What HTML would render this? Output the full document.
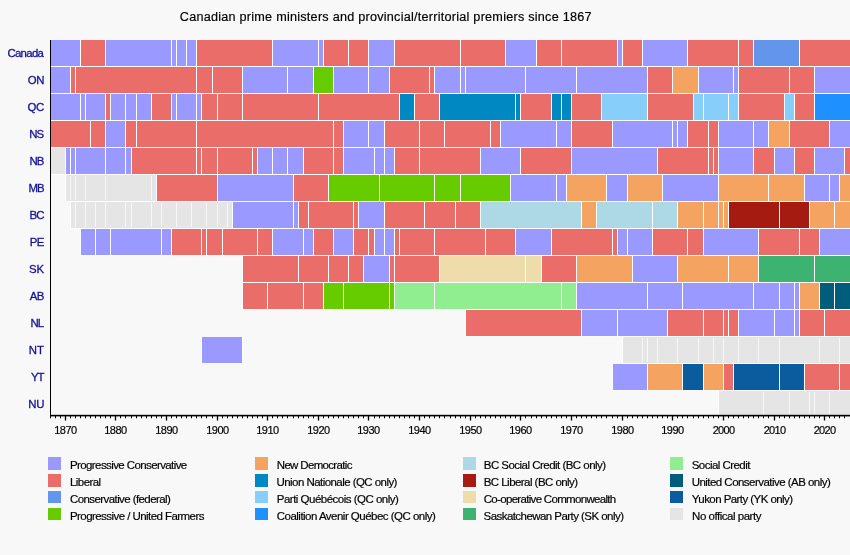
<!DOCTYPE html>
<html><head><meta charset="utf-8"><title>Canadian prime ministers and provincial/territorial premiers since 1867</title>
<style>
html,body{margin:0;padding:0}
body{width:850px;height:555px;position:relative;overflow:hidden;background:#F8F8F8;font-family:"Liberation Sans",sans-serif;color:#000;-webkit-text-stroke:0.18px #000}
.t{position:absolute;white-space:nowrap;line-height:1}
.title{font-size:12.65px}
.lab{font-size:11.4px;color:#14109A;-webkit-text-stroke:0.3px #14109A}
.yr{font-size:11px}
.lg{font-size:11.5px}
.sw{position:absolute;width:13px;height:12.4px}
</style></head><body>
<svg width="850" height="555" viewBox="0 0 850 555" style="position:absolute;left:0;top:0" shape-rendering="crispEdges">
<rect x="50" y="40" width="30" height="26" fill="#9999FF"/>
<rect x="80" y="40" width="25" height="26" fill="#EA6D6A"/>
<rect x="105" y="40" width="91" height="26" fill="#9999FF"/>
<rect x="196" y="40" width="76" height="26" fill="#EA6D6A"/>
<rect x="272" y="40" width="51" height="26" fill="#9999FF"/>
<rect x="323" y="40" width="45" height="26" fill="#EA6D6A"/>
<rect x="368" y="40" width="26" height="26" fill="#9999FF"/>
<rect x="394" y="40" width="111" height="26" fill="#EA6D6A"/>
<rect x="505" y="40" width="31" height="26" fill="#9999FF"/>
<rect x="536" y="40" width="81" height="26" fill="#EA6D6A"/>
<rect x="617" y="40" width="5" height="26" fill="#9999FF"/>
<rect x="622" y="40" width="20" height="26" fill="#EA6D6A"/>
<rect x="642" y="40" width="45" height="26" fill="#9999FF"/>
<rect x="687" y="40" width="66" height="26" fill="#EA6D6A"/>
<rect x="753" y="40" width="46" height="26" fill="#6495ED"/>
<rect x="799" y="40" width="51" height="26" fill="#EA6D6A"/>
<rect x="50" y="66" width="800" height="1" fill="#fff" fill-opacity="0.7"/>
<path d="M80.5 40v26M105.5 40v26M171.5 40v26M176.5 40v26M186.5 40v26M196.5 40v26M272.5 40v26M318.5 40v26M323.5 40v26M348.5 40v26M368.5 40v26M394.5 40v26M460.5 40v26M505.5 40v26M536.5 40v26M561.5 40v26M617.5 40v26M622.5 40v26M642.5 40v26M687.5 40v26M738.5 40v26M753.5 40v26M799.5 40v26" stroke="#fff" stroke-width="1" fill="none"/>
<rect x="50" y="67" width="20" height="26" fill="#9999FF"/>
<rect x="70" y="67" width="172" height="26" fill="#EA6D6A"/>
<rect x="242" y="67" width="71" height="26" fill="#9999FF"/>
<rect x="313" y="67" width="20" height="26" fill="#66CC00"/>
<rect x="333" y="67" width="56" height="26" fill="#9999FF"/>
<rect x="389" y="67" width="45" height="26" fill="#EA6D6A"/>
<rect x="434" y="67" width="213" height="26" fill="#9999FF"/>
<rect x="647" y="67" width="25" height="26" fill="#EA6D6A"/>
<rect x="672" y="67" width="26" height="26" fill="#F4A460"/>
<rect x="698" y="67" width="40" height="26" fill="#9999FF"/>
<rect x="738" y="67" width="76" height="26" fill="#EA6D6A"/>
<rect x="814" y="67" width="36" height="26" fill="#9999FF"/>
<rect x="50" y="93" width="800" height="1" fill="#fff" fill-opacity="0.7"/>
<path d="M70.5 67v26M75.5 67v26M196.5 67v26M212.5 67v26M242.5 67v26M287.5 67v26M313.5 67v26M333.5 67v26M368.5 67v26M389.5 67v26M429.5 67v26M434.5 67v26M460.5 67v26M465.5 67v26M525.5 67v26M576.5 67v26M647.5 67v26M672.5 67v26M698.5 67v26M733.5 67v26M738.5 67v26M789.5 67v26M814.5 67v26" stroke="#fff" stroke-width="1" fill="none"/>
<rect x="50" y="94" width="55" height="26" fill="#9999FF"/>
<rect x="105" y="94" width="5" height="26" fill="#EA6D6A"/>
<rect x="110" y="94" width="41" height="26" fill="#9999FF"/>
<rect x="151" y="94" width="20" height="26" fill="#EA6D6A"/>
<rect x="171" y="94" width="30" height="26" fill="#9999FF"/>
<rect x="201" y="94" width="198" height="26" fill="#EA6D6A"/>
<rect x="399" y="94" width="15" height="26" fill="#0088C2"/>
<rect x="414" y="94" width="25" height="26" fill="#EA6D6A"/>
<rect x="439" y="94" width="81" height="26" fill="#0088C2"/>
<rect x="520" y="94" width="31" height="26" fill="#EA6D6A"/>
<rect x="551" y="94" width="20" height="26" fill="#0088C2"/>
<rect x="571" y="94" width="30" height="26" fill="#EA6D6A"/>
<rect x="601" y="94" width="46" height="26" fill="#87CEFA"/>
<rect x="647" y="94" width="46" height="26" fill="#EA6D6A"/>
<rect x="693" y="94" width="45" height="26" fill="#87CEFA"/>
<rect x="738" y="94" width="46" height="26" fill="#EA6D6A"/>
<rect x="784" y="94" width="10" height="26" fill="#87CEFA"/>
<rect x="794" y="94" width="20" height="26" fill="#EA6D6A"/>
<rect x="814" y="94" width="36" height="26" fill="#1E90FF"/>
<rect x="50" y="120" width="800" height="1" fill="#fff" fill-opacity="0.7"/>
<path d="M80.5 94v26M85.5 94v26M105.5 94v26M110.5 94v26M125.5 94v26M136.5 94v26M151.5 94v26M171.5 94v26M176.5 94v26M196.5 94v26M201.5 94v26M217.5 94v26M242.5 94v26M318.5 94v26M399.5 94v26M414.5 94v26M439.5 94v26M515.5 94v26M520.5 94v26M551.5 94v26M561.5 94v26M571.5 94v26M601.5 94v26M647.5 94v26M693.5 94v26M703.5 94v26M728.5 94v26M738.5 94v26M784.5 94v26M794.5 94v26M814.5 94v26" stroke="#fff" stroke-width="1" fill="none"/>
<rect x="50" y="121" width="55" height="26" fill="#EA6D6A"/>
<rect x="105" y="121" width="20" height="26" fill="#9999FF"/>
<rect x="125" y="121" width="218" height="26" fill="#EA6D6A"/>
<rect x="343" y="121" width="41" height="26" fill="#9999FF"/>
<rect x="384" y="121" width="116" height="26" fill="#EA6D6A"/>
<rect x="500" y="121" width="71" height="26" fill="#9999FF"/>
<rect x="571" y="121" width="41" height="26" fill="#EA6D6A"/>
<rect x="612" y="121" width="75" height="26" fill="#9999FF"/>
<rect x="687" y="121" width="31" height="26" fill="#EA6D6A"/>
<rect x="718" y="121" width="50" height="26" fill="#9999FF"/>
<rect x="768" y="121" width="21" height="26" fill="#F4A460"/>
<rect x="789" y="121" width="40" height="26" fill="#EA6D6A"/>
<rect x="829" y="121" width="21" height="26" fill="#9999FF"/>
<rect x="50" y="147" width="800" height="1" fill="#fff" fill-opacity="0.7"/>
<path d="M90.5 121v26M105.5 121v26M125.5 121v26M136.5 121v26M196.5 121v26M333.5 121v26M343.5 121v26M368.5 121v26M384.5 121v26M419.5 121v26M444.5 121v26M490.5 121v26M500.5 121v26M556.5 121v26M571.5 121v26M612.5 121v26M672.5 121v26M677.5 121v26M687.5 121v26M708.5 121v26M718.5 121v26M753.5 121v26M768.5 121v26M789.5 121v26M829.5 121v26" stroke="#fff" stroke-width="1" fill="none"/>
<rect x="50" y="148" width="15" height="26" fill="#E5E5E5"/>
<rect x="65" y="148" width="66" height="26" fill="#9999FF"/>
<rect x="131" y="148" width="126" height="26" fill="#EA6D6A"/>
<rect x="257" y="148" width="46" height="26" fill="#9999FF"/>
<rect x="303" y="148" width="40" height="26" fill="#EA6D6A"/>
<rect x="343" y="148" width="51" height="26" fill="#9999FF"/>
<rect x="394" y="148" width="86" height="26" fill="#EA6D6A"/>
<rect x="480" y="148" width="40" height="26" fill="#9999FF"/>
<rect x="520" y="148" width="51" height="26" fill="#EA6D6A"/>
<rect x="571" y="148" width="86" height="26" fill="#9999FF"/>
<rect x="657" y="148" width="61" height="26" fill="#EA6D6A"/>
<rect x="718" y="148" width="35" height="26" fill="#9999FF"/>
<rect x="753" y="148" width="21" height="26" fill="#EA6D6A"/>
<rect x="774" y="148" width="20" height="26" fill="#9999FF"/>
<rect x="794" y="148" width="20" height="26" fill="#EA6D6A"/>
<rect x="814" y="148" width="30" height="26" fill="#9999FF"/>
<rect x="844" y="148" width="6" height="26" fill="#EA6D6A"/>
<rect x="50" y="174" width="800" height="1" fill="#fff" fill-opacity="0.7"/>
<path d="M65.5 148v26M70.5 148v26M75.5 148v26M105.5 148v26M125.5 148v26M131.5 148v26M196.5 148v26M201.5 148v26M217.5 148v26M252.5 148v26M257.5 148v26M272.5 148v26M287.5 148v26M303.5 148v26M333.5 148v26M343.5 148v26M374.5 148v26M384.5 148v26M394.5 148v26M419.5 148v26M480.5 148v26M520.5 148v26M571.5 148v26M657.5 148v26M708.5 148v26M713.5 148v26M718.5 148v26M753.5 148v26M774.5 148v26M794.5 148v26M814.5 148v26M844.5 148v26" stroke="#fff" stroke-width="1" fill="none"/>
<rect x="65" y="175" width="91" height="26" fill="#E5E5E5"/>
<rect x="156" y="175" width="61" height="26" fill="#EA6D6A"/>
<rect x="217" y="175" width="76" height="26" fill="#9999FF"/>
<rect x="293" y="175" width="35" height="26" fill="#EA6D6A"/>
<rect x="328" y="175" width="182" height="26" fill="#66CC00"/>
<rect x="510" y="175" width="56" height="26" fill="#9999FF"/>
<rect x="566" y="175" width="40" height="26" fill="#F4A460"/>
<rect x="606" y="175" width="21" height="26" fill="#9999FF"/>
<rect x="627" y="175" width="35" height="26" fill="#F4A460"/>
<rect x="662" y="175" width="56" height="26" fill="#9999FF"/>
<rect x="718" y="175" width="86" height="26" fill="#F4A460"/>
<rect x="804" y="175" width="35" height="26" fill="#9999FF"/>
<rect x="839" y="175" width="11" height="26" fill="#F4A460"/>
<rect x="65" y="201" width="785" height="1" fill="#fff" fill-opacity="0.7"/>
<path d="M65.5 175v26M156.5 175v26M217.5 175v26M293.5 175v26M328.5 175v26M379.5 175v26M434.5 175v26M460.5 175v26M510.5 175v26M556.5 175v26M566.5 175v26M606.5 175v26M627.5 175v26M662.5 175v26M718.5 175v26M768.5 175v26M804.5 175v26M829.5 175v26M839.5 175v26" stroke="#fff" stroke-width="1" fill="none"/>
<path d="M70.5 176v24M75.5 176v24M85.5 176v24M105.5 176v24M151.5 176v24" stroke="#fff" stroke-opacity="0.72" stroke-width="1" fill="none"/>
<rect x="70" y="202" width="162" height="26" fill="#E5E5E5"/>
<rect x="232" y="202" width="66" height="26" fill="#9999FF"/>
<rect x="298" y="202" width="60" height="26" fill="#EA6D6A"/>
<rect x="358" y="202" width="26" height="26" fill="#9999FF"/>
<rect x="384" y="202" width="96" height="26" fill="#EA6D6A"/>
<rect x="480" y="202" width="101" height="26" fill="#ADD8E6"/>
<rect x="581" y="202" width="15" height="26" fill="#F4A460"/>
<rect x="596" y="202" width="81" height="26" fill="#ADD8E6"/>
<rect x="677" y="202" width="51" height="26" fill="#F4A460"/>
<rect x="728" y="202" width="81" height="26" fill="#A51B12"/>
<rect x="809" y="202" width="41" height="26" fill="#F4A460"/>
<rect x="70" y="228" width="780" height="1" fill="#fff" fill-opacity="0.7"/>
<path d="M70.5 202v26M232.5 202v26M293.5 202v26M298.5 202v26M308.5 202v26M353.5 202v26M358.5 202v26M384.5 202v26M424.5 202v26M455.5 202v26M480.5 202v26M581.5 202v26M596.5 202v26M652.5 202v26M677.5 202v26M703.5 202v26M718.5 202v26M723.5 202v26M728.5 202v26M779.5 202v26M809.5 202v26M834.5 202v26" stroke="#fff" stroke-width="1" fill="none"/>
<path d="M75.5 203v24M85.5 203v24M95.5 203v24M105.5 203v24M125.5 203v24M131.5 203v24M151.5 203v24M161.5 203v24M176.5 203v24M191.5 203v24M206.5 203v24M217.5 203v24M227.5 203v24" stroke="#fff" stroke-opacity="0.72" stroke-width="1" fill="none"/>
<rect x="80" y="229" width="91" height="26" fill="#9999FF"/>
<rect x="171" y="229" width="101" height="26" fill="#EA6D6A"/>
<rect x="272" y="229" width="41" height="26" fill="#9999FF"/>
<rect x="313" y="229" width="20" height="26" fill="#EA6D6A"/>
<rect x="333" y="229" width="20" height="26" fill="#9999FF"/>
<rect x="353" y="229" width="21" height="26" fill="#EA6D6A"/>
<rect x="374" y="229" width="20" height="26" fill="#9999FF"/>
<rect x="394" y="229" width="121" height="26" fill="#EA6D6A"/>
<rect x="515" y="229" width="36" height="26" fill="#9999FF"/>
<rect x="551" y="229" width="66" height="26" fill="#EA6D6A"/>
<rect x="617" y="229" width="35" height="26" fill="#9999FF"/>
<rect x="652" y="229" width="51" height="26" fill="#EA6D6A"/>
<rect x="703" y="229" width="55" height="26" fill="#9999FF"/>
<rect x="758" y="229" width="61" height="26" fill="#EA6D6A"/>
<rect x="819" y="229" width="31" height="26" fill="#9999FF"/>
<rect x="80" y="255" width="770" height="1" fill="#fff" fill-opacity="0.7"/>
<path d="M80.5 229v26M95.5 229v26M110.5 229v26M161.5 229v26M171.5 229v26M201.5 229v26M206.5 229v26M222.5 229v26M257.5 229v26M272.5 229v26M303.5 229v26M313.5 229v26M333.5 229v26M353.5 229v26M368.5 229v26M374.5 229v26M384.5 229v26M394.5 229v26M399.5 229v26M434.5 229v26M485.5 229v26M515.5 229v26M551.5 229v26M612.5 229v26M617.5 229v26M627.5 229v26M652.5 229v26M687.5 229v26M703.5 229v26M758.5 229v26M799.5 229v26M819.5 229v26" stroke="#fff" stroke-width="1" fill="none"/>
<rect x="242" y="256" width="121" height="26" fill="#EA6D6A"/>
<rect x="363" y="256" width="26" height="26" fill="#9999FF"/>
<rect x="389" y="256" width="50" height="26" fill="#EA6D6A"/>
<rect x="439" y="256" width="102" height="26" fill="#EEDDAA"/>
<rect x="541" y="256" width="35" height="26" fill="#EA6D6A"/>
<rect x="576" y="256" width="56" height="26" fill="#F4A460"/>
<rect x="632" y="256" width="45" height="26" fill="#9999FF"/>
<rect x="677" y="256" width="81" height="26" fill="#F4A460"/>
<rect x="758" y="256" width="92" height="26" fill="#3CB371"/>
<rect x="242" y="282" width="608" height="1" fill="#fff" fill-opacity="0.7"/>
<path d="M242.5 256v26M298.5 256v26M328.5 256v26M348.5 256v26M363.5 256v26M389.5 256v26M394.5 256v26M439.5 256v26M525.5 256v26M541.5 256v26M576.5 256v26M632.5 256v26M677.5 256v26M728.5 256v26M758.5 256v26M814.5 256v26" stroke="#fff" stroke-width="1" fill="none"/>
<rect x="242" y="283" width="81" height="26" fill="#EA6D6A"/>
<rect x="323" y="283" width="71" height="26" fill="#66CC00"/>
<rect x="394" y="283" width="182" height="26" fill="#90EE90"/>
<rect x="576" y="283" width="223" height="26" fill="#9999FF"/>
<rect x="799" y="283" width="20" height="26" fill="#F4A460"/>
<rect x="819" y="283" width="31" height="26" fill="#005D7C"/>
<rect x="242" y="309" width="608" height="1" fill="#fff" fill-opacity="0.7"/>
<path d="M242.5 283v26M267.5 283v26M303.5 283v26M323.5 283v26M343.5 283v26M389.5 283v26M394.5 283v26M434.5 283v26M561.5 283v26M576.5 283v26M647.5 283v26M682.5 283v26M753.5 283v26M779.5 283v26M794.5 283v26M799.5 283v26M819.5 283v26M834.5 283v26" stroke="#fff" stroke-width="1" fill="none"/>
<rect x="465" y="310" width="116" height="26" fill="#EA6D6A"/>
<rect x="581" y="310" width="86" height="26" fill="#9999FF"/>
<rect x="667" y="310" width="71" height="26" fill="#EA6D6A"/>
<rect x="738" y="310" width="61" height="26" fill="#9999FF"/>
<rect x="799" y="310" width="51" height="26" fill="#EA6D6A"/>
<rect x="465" y="336" width="385" height="1" fill="#fff" fill-opacity="0.7"/>
<path d="M465.5 310v26M581.5 310v26M617.5 310v26M667.5 310v26M703.5 310v26M723.5 310v26M728.5 310v26M738.5 310v26M774.5 310v26M794.5 310v26M799.5 310v26M824.5 310v26" stroke="#fff" stroke-width="1" fill="none"/>
<rect x="201" y="337" width="41" height="26" fill="#9999FF"/>
<rect x="622" y="337" width="228" height="26" fill="#E5E5E5"/>
<rect x="201" y="363" width="42" height="1" fill="#fff" fill-opacity="0.7"/>
<rect x="622" y="363" width="228" height="1" fill="#fff" fill-opacity="0.7"/>
<path d="M201.5 337v26M242.5 337v26M622.5 337v26" stroke="#fff" stroke-width="1" fill="none"/>
<path d="M642.5 338v24M647.5 338v24M657.5 338v24M677.5 338v24M698.5 338v24M713.5 338v24M723.5 338v24M738.5 338v24M758.5 338v24M779.5 338v24M819.5 338v24M839.5 338v24" stroke="#fff" stroke-opacity="0.72" stroke-width="1" fill="none"/>
<rect x="612" y="364" width="35" height="26" fill="#9999FF"/>
<rect x="647" y="364" width="35" height="26" fill="#F4A460"/>
<rect x="682" y="364" width="21" height="26" fill="#0A5C9E"/>
<rect x="703" y="364" width="20" height="26" fill="#F4A460"/>
<rect x="723" y="364" width="10" height="26" fill="#EA6D6A"/>
<rect x="733" y="364" width="71" height="26" fill="#0A5C9E"/>
<rect x="804" y="364" width="46" height="26" fill="#EA6D6A"/>
<rect x="612" y="390" width="238" height="1" fill="#fff" fill-opacity="0.7"/>
<path d="M612.5 364v26M647.5 364v26M682.5 364v26M703.5 364v26M723.5 364v26M733.5 364v26M779.5 364v26M804.5 364v26M839.5 364v26" stroke="#fff" stroke-width="1" fill="none"/>
<rect x="718" y="391" width="132" height="26" fill="#E5E5E5"/>
<path d="M718.5 391v26" stroke="#fff" stroke-width="1" fill="none"/>
<path d="M763.5 392v24M789.5 392v24M809.5 392v24M814.5 392v24M829.5 392v24" stroke="#fff" stroke-opacity="0.72" stroke-width="1" fill="none"/>
<rect x="50" y="40" width="1" height="376" fill="#000"/>
<rect x="50" y="414.8" width="800" height="1.6" fill="#000" shape-rendering="auto"/>
<path d="M65.5 416v4.6M115.5 416v4.6M166.5 416v4.6M217.5 416v4.6M267.5 416v4.6M318.5 416v4.6M368.5 416v4.6M419.5 416v4.6M470.5 416v4.6M520.5 416v4.6M571.5 416v4.6M622.5 416v4.6M672.5 416v4.6M723.5 416v4.6M774.5 416v4.6M824.5 416v4.6" stroke="#000" stroke-width="1.3" fill="none" shape-rendering="auto"/>
<path d="M50.5 416v2.3M55.5 416v2.3M60.5 416v2.3M70.5 416v2.3M75.5 416v2.3M80.5 416v2.3M85.5 416v2.3M90.5 416v2.3M95.5 416v2.3M100.5 416v2.3M105.5 416v2.3M110.5 416v2.3M120.5 416v2.3M125.5 416v2.3M131.5 416v2.3M136.5 416v2.3M141.5 416v2.3M146.5 416v2.3M151.5 416v2.3M156.5 416v2.3M161.5 416v2.3M171.5 416v2.3M176.5 416v2.3M181.5 416v2.3M186.5 416v2.3M191.5 416v2.3M196.5 416v2.3M201.5 416v2.3M206.5 416v2.3M212.5 416v2.3M222.5 416v2.3M227.5 416v2.3M232.5 416v2.3M237.5 416v2.3M242.5 416v2.3M247.5 416v2.3M252.5 416v2.3M257.5 416v2.3M262.5 416v2.3M272.5 416v2.3M277.5 416v2.3M282.5 416v2.3M287.5 416v2.3M293.5 416v2.3M298.5 416v2.3M303.5 416v2.3M308.5 416v2.3M313.5 416v2.3M323.5 416v2.3M328.5 416v2.3M333.5 416v2.3M338.5 416v2.3M343.5 416v2.3M348.5 416v2.3M353.5 416v2.3M358.5 416v2.3M363.5 416v2.3M374.5 416v2.3M379.5 416v2.3M384.5 416v2.3M389.5 416v2.3M394.5 416v2.3M399.5 416v2.3M404.5 416v2.3M409.5 416v2.3M414.5 416v2.3M424.5 416v2.3M429.5 416v2.3M434.5 416v2.3M439.5 416v2.3M444.5 416v2.3M450.5 416v2.3M455.5 416v2.3M460.5 416v2.3M465.5 416v2.3M475.5 416v2.3M480.5 416v2.3M485.5 416v2.3M490.5 416v2.3M495.5 416v2.3M500.5 416v2.3M505.5 416v2.3M510.5 416v2.3M515.5 416v2.3M525.5 416v2.3M531.5 416v2.3M536.5 416v2.3M541.5 416v2.3M546.5 416v2.3M551.5 416v2.3M556.5 416v2.3M561.5 416v2.3M566.5 416v2.3M576.5 416v2.3M581.5 416v2.3M586.5 416v2.3M591.5 416v2.3M596.5 416v2.3M601.5 416v2.3M606.5 416v2.3M612.5 416v2.3M617.5 416v2.3M627.5 416v2.3M632.5 416v2.3M637.5 416v2.3M642.5 416v2.3M647.5 416v2.3M652.5 416v2.3M657.5 416v2.3M662.5 416v2.3M667.5 416v2.3M677.5 416v2.3M682.5 416v2.3M687.5 416v2.3M693.5 416v2.3M698.5 416v2.3M703.5 416v2.3M708.5 416v2.3M713.5 416v2.3M718.5 416v2.3M728.5 416v2.3M733.5 416v2.3M738.5 416v2.3M743.5 416v2.3M748.5 416v2.3M753.5 416v2.3M758.5 416v2.3M763.5 416v2.3M768.5 416v2.3M779.5 416v2.3M784.5 416v2.3M789.5 416v2.3M794.5 416v2.3M799.5 416v2.3M804.5 416v2.3M809.5 416v2.3M814.5 416v2.3M819.5 416v2.3M829.5 416v2.3M834.5 416v2.3M839.5 416v2.3M844.5 416v2.3" stroke="#000" stroke-width="1" fill="none" shape-rendering="auto"/>
</svg>
<div class="sw" style="left:47.8px;top:457.4px;background:#9999FF"></div>
<div class="sw" style="left:47.8px;top:474.3px;background:#EA6D6A"></div>
<div class="sw" style="left:47.8px;top:491.1px;background:#6495ED"></div>
<div class="sw" style="left:47.8px;top:508.0px;background:#66CC00"></div>
<div class="sw" style="left:254.9px;top:457.4px;background:#F4A460"></div>
<div class="sw" style="left:254.9px;top:474.3px;background:#0088C2"></div>
<div class="sw" style="left:254.9px;top:491.1px;background:#87CEFA"></div>
<div class="sw" style="left:254.9px;top:508.0px;background:#1E90FF"></div>
<div class="sw" style="left:463.1px;top:457.4px;background:#ADD8E6"></div>
<div class="sw" style="left:463.1px;top:474.3px;background:#A51B12"></div>
<div class="sw" style="left:463.1px;top:491.1px;background:#EEDDAA"></div>
<div class="sw" style="left:463.1px;top:508.0px;background:#3CB371"></div>
<div class="sw" style="left:670.0px;top:457.4px;background:#90EE90"></div>
<div class="sw" style="left:670.0px;top:474.3px;background:#005D7C"></div>
<div class="sw" style="left:670.0px;top:491.1px;background:#0A5C9E"></div>
<div class="sw" style="left:670.0px;top:508.0px;background:#E5E5E5"></div>
<div id="ti" class="t title" style="left:179.77px;top:11.30px;letter-spacing:0.242px">Canadian prime ministers and provincial/territorial premiers since 1867</div>
<div id="l0" class="t lab" style="left:7.38px;top:47.71px;letter-spacing:-0.669px">Canada</div>
<div id="l1" class="t lab" style="left:27.70px;top:74.92px;letter-spacing:-0.270px">ON</div>
<div id="l2" class="t lab" style="left:27.42px;top:101.72px;letter-spacing:-0.225px">QC</div>
<div id="l3" class="t lab" style="left:29.37px;top:128.83px;letter-spacing:-1.085px">NS</div>
<div id="l4" class="t lab" style="left:29.56px;top:156.10px;letter-spacing:-1.100px">NB</div>
<div id="l5" class="t lab" style="left:28.56px;top:183.10px;letter-spacing:-1.100px">MB</div>
<div id="l6" class="t lab" style="left:29.56px;top:210.06px;letter-spacing:-0.900px">BC</div>
<div id="l7" class="t lab" style="left:29.72px;top:237.10px;letter-spacing:-0.610px">PE</div>
<div id="l8" class="t lab" style="left:28.90px;top:264.05px;letter-spacing:0.000px">SK</div>
<div id="l9" class="t lab" style="left:29.70px;top:291.10px;letter-spacing:-0.515px">AB</div>
<div id="l10" class="t lab" style="left:30.56px;top:318.10px;letter-spacing:-0.955px">NL</div>
<div id="l11" class="t lab" style="left:28.86px;top:345.10px;letter-spacing:-0.005px">NT</div>
<div id="l12" class="t lab" style="left:31.02px;top:372.10px;letter-spacing:-1.100px">YT</div>
<div id="l13" class="t lab" style="left:28.33px;top:399.05px;letter-spacing:-0.190px">NU</div>
<div id="y1870" class="t yr" style="left:54.28px;top:424.90px;letter-spacing:-0.543px">1870</div>
<div id="y1880" class="t yr" style="left:104.28px;top:424.90px;letter-spacing:-0.543px">1880</div>
<div id="y1890" class="t yr" style="left:155.28px;top:424.90px;letter-spacing:-0.543px">1890</div>
<div id="y1900" class="t yr" style="left:206.28px;top:424.90px;letter-spacing:-0.543px">1900</div>
<div id="y1910" class="t yr" style="left:256.28px;top:424.90px;letter-spacing:-0.543px">1910</div>
<div id="y1920" class="t yr" style="left:307.28px;top:424.90px;letter-spacing:-0.543px">1920</div>
<div id="y1930" class="t yr" style="left:357.28px;top:424.90px;letter-spacing:-0.543px">1930</div>
<div id="y1940" class="t yr" style="left:408.28px;top:424.90px;letter-spacing:-0.543px">1940</div>
<div id="y1950" class="t yr" style="left:459.28px;top:424.90px;letter-spacing:-0.543px">1950</div>
<div id="y1960" class="t yr" style="left:509.28px;top:424.90px;letter-spacing:-0.543px">1960</div>
<div id="y1970" class="t yr" style="left:560.28px;top:424.90px;letter-spacing:-0.543px">1970</div>
<div id="y1980" class="t yr" style="left:611.28px;top:424.90px;letter-spacing:-0.543px">1980</div>
<div id="y1990" class="t yr" style="left:661.28px;top:424.90px;letter-spacing:-0.543px">1990</div>
<div id="y2000" class="t yr" style="left:712.70px;top:424.82px;letter-spacing:-0.686px">2000</div>
<div id="y2010" class="t yr" style="left:763.70px;top:424.90px;letter-spacing:-0.686px">2010</div>
<div id="y2020" class="t yr" style="left:813.70px;top:424.82px;letter-spacing:-0.686px">2020</div>
<div id="g00" class="t lg" style="left:69.96px;top:460.20px;letter-spacing:-0.599px">Progressive Conservative</div>
<div id="g01" class="t lg" style="left:69.96px;top:476.95px;letter-spacing:-0.555px">Liberal</div>
<div id="g02" class="t lg" style="left:70.02px;top:493.75px;letter-spacing:-0.586px">Conservative (federal)</div>
<div id="g03" class="t lg" style="left:69.96px;top:510.95px;letter-spacing:-0.558px">Progressive / United Farmers</div>
<div id="g10" class="t lg" style="left:276.76px;top:460.20px;letter-spacing:-0.668px">New Democratic</div>
<div id="g11" class="t lg" style="left:276.48px;top:476.95px;letter-spacing:-0.553px">Union Nationale (QC only)</div>
<div id="g12" class="t lg" style="left:276.76px;top:493.75px;letter-spacing:-0.506px">Parti Québécois (QC only)</div>
<div id="g13" class="t lg" style="left:276.76px;top:510.95px;letter-spacing:-0.516px">Coalition Avenir Québec (QC only)</div>
<div id="g20" class="t lg" style="left:483.76px;top:460.20px;letter-spacing:-0.525px">BC Social Credit (BC only)</div>
<div id="g21" class="t lg" style="left:483.76px;top:476.95px;letter-spacing:-0.549px">BC Liberal (BC only)</div>
<div id="g22" class="t lg" style="left:483.76px;top:493.75px;letter-spacing:-0.686px">Co-operative Commonwealth</div>
<div id="g23" class="t lg" style="left:483.52px;top:510.95px;letter-spacing:-0.551px">Saskatchewan Party (SK only)</div>
<div id="g30" class="t lg" style="left:691.74px;top:460.20px;letter-spacing:-0.547px">Social Credit</div>
<div id="g31" class="t lg" style="left:691.66px;top:476.95px;letter-spacing:-0.534px">United Conservative (AB only)</div>
<div id="g32" class="t lg" style="left:691.86px;top:493.75px;letter-spacing:-0.565px">Yukon Party (YK only)</div>
<div id="g33" class="t lg" style="left:692.12px;top:510.95px;letter-spacing:-0.479px">No offical party</div>
</body></html>
